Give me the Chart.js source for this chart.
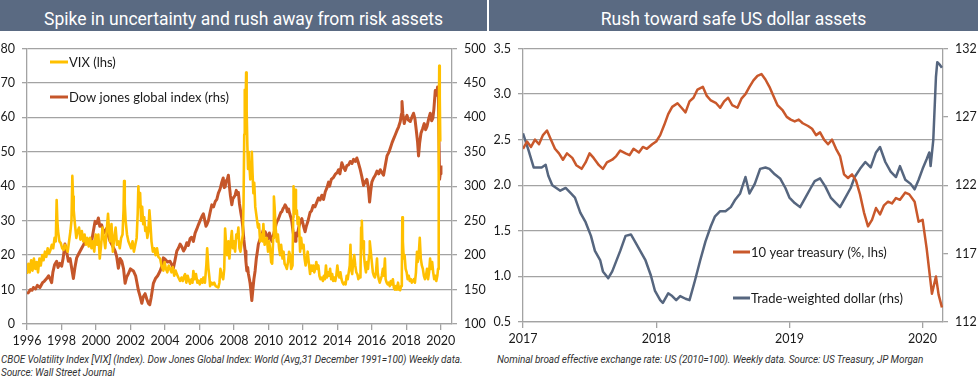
<!DOCTYPE html>
<html><head><meta charset="utf-8">
<script src="https://cdn.jsdelivr.net/npm/chart.js@4.4.1/dist/chart.umd.min.js"></script>
<style>
html,body{margin:0;padding:0;background:#fff;}
body{width:978px;height:382px;position:relative;overflow:hidden;font-family:Roboto,'Noto Sans',sans-serif;}
.hdr{position:absolute;top:0;height:31px;background:#5a6a82;color:#fff;font-size:17.5px;line-height:38px;text-align:center;overflow:hidden;white-space:nowrap;}
.note{position:absolute;font-style:italic;font-size:10px;line-height:13px;color:#333;white-space:nowrap;letter-spacing:-0.1px;}
canvas{position:absolute;}
</style></head><body>
<div class="hdr" style="left:0;width:487px">Spike in uncertainty and rush away from risk assets</div>
<div class="hdr" style="left:489px;width:489px">Rush toward safe US dollar assets</div>
<canvas id="c1" width="487" height="316" style="left:0;top:34px"></canvas>
<canvas id="c2" width="489" height="316" style="left:489px;top:34px"></canvas>
<div class="note" style="left:1px;top:353px">CBOE Volatility Index [VIX] (Index). Dow Jones Global Index: World (Avg,31 December 1991=100) Weekly data.<br>Source: Wall Street Journal</div>
<div class="note" style="left:497px;top:353px">Nominal broad effective exchange rate: US (2010=100). Weekly data. Source: US Treasury, JP Morgan</div>
<script>
// ---------- LEFT CHART DATA ----------
const vixYears = [1996.00,1996.08,1996.16,1996.24,1996.32,1996.40,1996.48,1996.56,1996.64,1996.72,1996.80,1996.88,1996.96,1997.04,1997.12,1997.20,1997.28,1997.36,1997.44,1997.52,1997.60,1997.67,1997.72,1997.76,1997.80,1997.88,1997.96,1998.04,1998.12,1998.20,1998.28,1998.36,1998.44,1998.52,1998.58,1998.63,1998.67,1998.71,1998.78,1998.86,1998.94,1999.02,1999.10,1999.18,1999.26,1999.34,1999.42,1999.50,1999.58,1999.66,1999.74,1999.82,1999.90,1999.98,2000.06,2000.14,2000.22,2000.30,2000.38,2000.46,2000.54,2000.62,2000.70,2000.76,2000.82,2000.90,2000.98,2001.06,2001.14,2001.22,2001.30,2001.38,2001.46,2001.54,2001.60,2001.63,2001.67,2001.72,2001.80,2001.88,2001.96,2002.04,2002.12,2002.20,2002.28,2002.36,2002.42,2002.46,2002.50,2002.56,2002.62,2002.68,2002.74,2002.80,2002.86,2002.92,2002.98,2003.04,2003.10,2003.16,2003.22,2003.30,2003.38,2003.46,2003.54,2003.62,2003.72,2003.80,2003.91,2003.98,2004.06,2004.14,2004.22,2004.30,2004.38,2004.46,2004.54,2004.62,2004.69,2004.78,2004.88,2004.96,2005.04,2005.12,2005.17,2005.24,2005.32,2005.40,2005.46,2005.54,2005.60,2005.65,2005.72,2005.80,2005.88,2005.94,2006.02,2006.10,2006.18,2006.23,2006.32,2006.40,2006.45,2006.52,2006.58,2006.62,2006.70,2006.78,2006.86,2006.94,2007.02,2007.10,2007.16,2007.22,2007.30,2007.38,2007.44,2007.49,2007.55,2007.61,2007.68,2007.74,2007.80,2007.88,2007.94,2008.00,2008.07,2008.14,2008.20,2008.26,2008.32,2008.38,2008.46,2008.52,2008.56,2008.60,2008.63,2008.66,2008.71,2008.74,2008.78,2008.82,2008.86,2008.90,2008.95,2009.00,2009.04,2009.08,2009.13,2009.18,2009.24,2009.33,2009.40,2009.46,2009.52,2009.60,2009.66,2009.71,2009.78,2009.85,2009.91,2009.98,2010.04,2010.10,2010.16,2010.22,2010.28,2010.32,2010.36,2010.42,2010.49,2010.55,2010.62,2010.68,2010.74,2010.82,2010.88,2010.94,2011.00,2011.07,2011.14,2011.20,2011.26,2011.32,2011.40,2011.44,2011.46,2011.50,2011.55,2011.60,2011.65,2011.70,2011.76,2011.84,2011.90,2011.96,2012.04,2012.10,2012.16,2012.23,2012.28,2012.34,2012.42,2012.48,2012.54,2012.60,2012.66,2012.72,2012.78,2012.84,2012.90,2012.96,2013.02,2013.10,2013.16,2013.22,2013.28,2013.34,2013.40,2013.46,2013.52,2013.58,2013.64,2013.70,2013.76,2013.82,2013.88,2013.94,2014.00,2014.06,2014.12,2014.18,2014.24,2014.30,2014.36,2014.42,2014.48,2014.54,2014.60,2014.66,2014.72,2014.76,2014.80,2014.86,2014.92,2014.98,2015.04,2015.10,2015.16,2015.22,2015.28,2015.34,2015.38,2015.42,2015.46,2015.50,2015.54,2015.60,2015.66,2015.72,2015.78,2015.84,2015.88,2015.94,2016.00,2016.06,2016.12,2016.18,2016.24,2016.30,2016.34,2016.40,2016.46,2016.52,2016.58,2016.64,2016.70,2016.76,2016.80,2016.86,2016.92,2016.98,2017.04,2017.10,2017.16,2017.22,2017.28,2017.34,2017.40,2017.46,2017.52,2017.58,2017.64,2017.70,2017.74,2017.77,2017.80,2017.85,2017.90,2017.96,2018.02,2018.08,2018.14,2018.20,2018.26,2018.32,2018.38,2018.44,2018.50,2018.56,2018.62,2018.66,2018.72,2018.78,2018.84,2018.90,2018.96,2019.02,2019.08,2019.14,2019.20,2019.26,2019.32,2019.38,2019.44,2019.50,2019.56,2019.62,2019.68,2019.74,2019.80,2019.84,2019.87,2019.89,2019.91,2019.94,2019.97];
const vixValues = [14.5,17.5,15,18.5,15.5,19,16,18,15,19,17,20,18.5,21,19.5,22,20.5,21.5,23,22,25,24,36,30,27,24,23.5,22,21.5,23,22,21,24,27,30,43,37,33,29,25,27,28,24.5,27,24,26,23,25,22.5,25,22,24,21,26,23,26,19,23,28,25,22,27,32,27,24,29,21,25,28,23,24,22,25,26,33,41.5,35,30,26,24,23,22,24,21,23,25,32,40,34,38,30,34,29,31,27,28,25,27,33,29,24,21,22,20,22,19.5,19,17,15.5,18,16,15,17,16,15,16.5,14,15.5,14.5,13.5,12.5,13.5,12.5,14,14.5,12,14,12.5,11.7,13,12,15.4,13,14.5,12,12.6,11.5,13,12,13.5,12,17,22,16.3,13.5,11,12,11.5,12,11,10.8,10.6,12,16,14,13,16,27.7,23,20,24,19,23,27,22,24,21,26,25,28,22,21,24,26,35,55,68,58,73,62,52,45,50,46,42,45,50,44,38,41,34,30.6,28,29,24,26,24,29,23,24,25,21,24,22,18,17.5,25,37,34,28,24,26,22,20,23,19,21,17.5,17,16,18,21,20,16,17,31,40,34,39,32,33,29,31,21,25,22,23,19,17,19,21,18,14.5,17,15.5,17,15,16,18,16,17,14,13,13.5,12.5,14,13,17,13.5,15,14,16,13,14.5,12.5,13.5,12.5,14,17,14.5,13.5,15,13,12,11.5,12,11.5,14,13,15,17,23,16,14.5,18,20,17,15,14.5,13,14,13.5,28,30,22,24,20,17,15,18,16,20,24,21,18,15,14,13.5,15,19,15,13,12,13,14,16,14,19,13,12,11.5,12,11,12.5,11.5,13,10.5,10,11,10,12,10,9.8,11,14,31,24,19,20,16,15,13,14,12.5,13,12,12.5,13,12,15,21,18,20,25,19,17,16,14,13,14,16,13,15,19,16,18,15,13,14,12.5,14,16,26,57,75,66,53];

const djYears = [1996.00,1996.10,1996.20,1996.30,1996.37,1996.50,1996.60,1996.75,1996.90,1997.00,1997.14,1997.25,1997.35,1997.43,1997.50,1997.60,1997.72,1997.80,1997.90,1998.01,1998.10,1998.20,1998.30,1998.40,1998.50,1998.60,1998.69,1998.78,1998.88,1999.00,1999.17,1999.30,1999.46,1999.60,1999.75,1999.85,1999.95,2000.05,2000.14,2000.22,2000.33,2000.45,2000.62,2000.72,2000.82,2000.95,2001.11,2001.20,2001.30,2001.40,2001.50,2001.60,2001.69,2001.78,2001.88,2002.00,2002.17,2002.30,2002.46,2002.56,2002.66,2002.75,2002.85,2002.95,2003.04,2003.12,2003.20,2003.33,2003.45,2003.58,2003.72,2003.85,2003.91,2004.01,2004.15,2004.30,2004.40,2004.49,2004.58,2004.69,2004.78,2004.88,2004.98,2005.08,2005.17,2005.27,2005.36,2005.46,2005.55,2005.65,2005.75,2005.85,2005.94,2006.04,2006.14,2006.23,2006.30,2006.38,2006.43,2006.52,2006.62,2006.72,2006.82,2006.92,2007.01,2007.10,2007.20,2007.30,2007.38,2007.44,2007.49,2007.56,2007.62,2007.68,2007.74,2007.80,2007.88,2007.94,2008.00,2008.07,2008.14,2008.20,2008.26,2008.32,2008.40,2008.46,2008.52,2008.58,2008.65,2008.70,2008.75,2008.80,2008.84,2008.90,2008.94,2008.98,2009.04,2009.10,2009.16,2009.23,2009.30,2009.36,2009.42,2009.50,2009.56,2009.62,2009.70,2009.76,2009.81,2009.88,2009.94,2010.00,2010.06,2010.12,2010.20,2010.26,2010.32,2010.39,2010.46,2010.52,2010.59,2010.66,2010.72,2010.78,2010.86,2010.92,2010.97,2011.04,2011.10,2011.17,2011.24,2011.30,2011.36,2011.42,2011.48,2011.55,2011.60,2011.68,2011.75,2011.82,2011.88,2011.94,2012.00,2012.06,2012.13,2012.20,2012.28,2012.35,2012.42,2012.50,2012.60,2012.70,2012.81,2012.90,2013.00,2013.10,2013.20,2013.30,2013.40,2013.49,2013.55,2013.65,2013.78,2013.90,2014.00,2014.07,2014.15,2014.26,2014.35,2014.46,2014.55,2014.65,2014.75,2014.85,2014.94,2015.05,2015.13,2015.22,2015.33,2015.42,2015.52,2015.60,2015.71,2015.80,2015.87,2015.93,2016.00,2016.10,2016.20,2016.30,2016.40,2016.49,2016.58,2016.68,2016.78,2016.88,2017.00,2017.08,2017.17,2017.25,2017.35,2017.46,2017.55,2017.65,2017.72,2017.75,2017.80,2017.88,2017.95,2018.04,2018.12,2018.23,2018.32,2018.42,2018.50,2018.58,2018.65,2018.71,2018.77,2018.85,2018.95,2019.04,2019.12,2019.20,2019.30,2019.39,2019.47,2019.54,2019.60,2019.68,2019.75,2019.81,2019.86,2019.89,2019.93,2019.97,2020.01];
const djValues = [144,146,150,149,153,151,156,153,160,162,166,170,165,160,175,186,191,182,188,184,196,216,205,191,195,180,166,182,196,202,210,216,223,218,220,235,249,246,254,242,244,232,239,228,220,214,206,198,181,195,191,180,159,168,173,180,177,170,149,140,130,140,144,136,130,128,138,159,166,170,177,186,196,194,190,191,186,181,192,206,210,216,212,206,210,218,214,224,226,220,232,238,244,250,256,260,252,242,244,250,262,273,270,278,281,290,296,306,312,298,299,308,310,316,300,286,273,282,284,287,294,288,291,275,262,253,240,222,206,190,177,182,173,165,159,150,134,150,165,177,195,205,216,222,226,230,236,228,234,230,226,224,232,226,220,226,232,239,246,250,253,258,262,263,268,270,273,270,263,267,260,255,249,236,226,220,232,228,239,246,250,253,246,240,234,242,248,255,262,264,272,270,277,283,280,287,281,292,298,306,300,310,313,318,320,324,318,334,328,323,330,331,336,333,339,336,341,334,324,314,301,306,310,298,277,292,306,312,316,322,318,324,320,316,330,344,350,356,363,368,374,381,386,394,405,423,405,391,398,403,396,394,400,406,398,381,365,344,362,377,384,391,382,387,398,406,395,399,412,439,432,444,430,377,310,318,330];

const leftYearTicks = [1996,1998,2000,2002,2004,2006,2008,2010,2012,2014,2016,2018,2020];
const vixTicks = [0,10,20,30,40,50,60,70,80];
const djTicks = [100,150,200,250,300,350,400,450,500];

// ---------- RIGHT CHART DATA ----------
const tsyYears = [2017.00,2017.03,2017.06,2017.09,2017.12,2017.15,2017.18,2017.21,2017.24,2017.27,2017.30,2017.33,2017.37,2017.40,2017.44,2017.47,2017.50,2017.53,2017.57,2017.60,2017.63,2017.67,2017.70,2017.73,2017.77,2017.80,2017.83,2017.87,2017.90,2017.93,2017.97,2018.00,2018.03,2018.06,2018.09,2018.12,2018.16,2018.19,2018.22,2018.25,2018.28,2018.31,2018.35,2018.38,2018.41,2018.45,2018.48,2018.51,2018.54,2018.57,2018.61,2018.64,2018.67,2018.70,2018.73,2018.76,2018.79,2018.82,2018.85,2018.88,2018.91,2018.95,2018.98,2019.01,2019.04,2019.07,2019.10,2019.14,2019.17,2019.20,2019.23,2019.26,2019.29,2019.32,2019.35,2019.38,2019.41,2019.44,2019.47,2019.50,2019.53,2019.56,2019.59,2019.62,2019.65,2019.68,2019.71,2019.74,2019.77,2019.80,2019.83,2019.87,2019.90,2019.94,2019.97,2020.00,2020.03,2020.07,2020.10,2020.12,2020.145];
const tsyValues = [2.40,2.48,2.42,2.50,2.45,2.55,2.60,2.50,2.40,2.35,2.28,2.35,2.30,2.22,2.18,2.25,2.35,2.30,2.22,2.18,2.25,2.28,2.32,2.38,2.35,2.33,2.40,2.36,2.42,2.40,2.45,2.48,2.55,2.66,2.78,2.86,2.90,2.85,2.80,2.92,2.96,3.05,3.08,2.98,2.93,2.90,2.85,2.92,2.96,2.88,2.85,2.95,3.00,3.08,3.15,3.20,3.22,3.16,3.08,2.98,2.88,2.82,2.75,2.72,2.70,2.72,2.68,2.65,2.62,2.55,2.58,2.50,2.45,2.50,2.40,2.32,2.12,2.08,2.12,2.05,1.90,1.70,1.55,1.62,1.75,1.68,1.78,1.82,1.80,1.86,1.84,1.92,1.90,1.82,1.60,1.62,1.31,0.81,1.00,0.80,0.66];

const usdYears = [2017.00,2017.04,2017.08,2017.14,2017.17,2017.19,2017.22,2017.28,2017.32,2017.36,2017.39,2017.43,2017.47,2017.51,2017.54,2017.58,2017.60,2017.64,2017.67,2017.73,2017.77,2017.81,2017.84,2017.88,2017.92,2017.96,2017.99,2018.03,2018.05,2018.09,2018.12,2018.15,2018.18,2018.22,2018.25,2018.29,2018.33,2018.37,2018.41,2018.44,2018.48,2018.52,2018.56,2018.59,2018.63,2018.67,2018.70,2018.74,2018.78,2018.82,2018.85,2018.89,2018.93,2018.97,2019.00,2019.04,2019.08,2019.12,2019.16,2019.19,2019.23,2019.27,2019.31,2019.35,2019.38,2019.42,2019.46,2019.49,2019.53,2019.57,2019.61,2019.65,2019.68,2019.72,2019.76,2019.80,2019.83,2019.87,2019.91,2019.94,2019.97,2020.00,2020.03,2020.05,2020.06,2020.08,2020.10,2020.11,2020.13,2020.145];
const usdValues = [125.8,124.6,123.3,123.3,123.5,122.7,122.0,121.6,121.8,121.4,121.1,120.0,119.3,118.3,117.2,116.5,115.7,115.2,115.7,117.2,118.3,118.4,117.9,117.2,116.5,115.4,114.3,113.6,113.4,114.1,113.9,113.6,113.9,113.7,113.6,115.0,116.5,117.9,119.0,119.7,120.1,120.1,120.4,120.9,121.4,122.6,121.4,122.1,123.2,123.3,123.2,122.8,122.5,121.8,121.1,120.7,120.4,121.1,121.8,122.3,122.5,121.9,121.1,120.7,120.4,121.1,121.8,122.6,123.2,123.7,123.3,124.4,124.8,123.7,123.0,122.6,123.4,122.4,122.1,121.7,122.4,123.2,123.9,124.4,123.4,125.3,129.9,131.0,130.8,130.6];

const rightYearTicks = [2017,2018,2019,2020];
const tsyTicks = [0.5,1.0,1.5,2.0,2.5,3.0,3.5];
const usdTicks = [112,117,122,127,132];

// ---------- helpers ----------
const pts = (xs, ys) => xs.map((x, i) => ({x: x, y: ys[i]}));
const GRID = '#a3a3a3';
const TICKFONT = {family: 'Lato, "Open Sans", sans-serif', size: 12.5};
const TICKCOLOR = '#1a1a1a';
const setTicks = (arr) => (scale) => { scale.ticks = arr.map(v => ({value: v})); };
const fixW = (w) => (scale) => { scale.width = w; };
const fixH = (h) => (scale) => { scale.height = h; };

const inLegend = {
  id: 'inLegend',
  afterDatasetsDraw(chart, args, opts) {
    const ctx = chart.ctx;
    ctx.save();
    chart.data.datasets.forEach((ds, i) => {
      const p = opts.items[i];
      ctx.strokeStyle = ds.borderColor;
      ctx.lineWidth = 3;
      ctx.beginPath();
      ctx.moveTo(p.x, p.y);
      ctx.lineTo(p.x + opts.lineLen, p.y);
      ctx.stroke();
      ctx.fillStyle = '#1a1a1a';
      ctx.font = opts.font;
      ctx.textBaseline = 'middle';
      ctx.textAlign = 'left';
      ctx.fillText(ds.label, p.x + opts.lineLen + 1, p.y + 0.5);
    });
    ctx.restore();
  }
};

function yAxis(pos, ticks, w, showGrid, fmt) {
  return {
    type: 'linear', position: pos,
    min: ticks[0], max: ticks[ticks.length - 1],
    afterBuildTicks: setTicks(ticks),
    afterFit: fixW(w),
    grid: {display: true, drawOnChartArea: showGrid, color: GRID, lineWidth: 1.3, tickLength: 5, drawTicks: true},
    border: {display: true, color: GRID, width: 1.3},
    ticks: {font: TICKFONT, color: TICKCOLOR, padding: 7, callback: fmt}
  };
}
function xAxis(ticks, min, max, h) {
  return {
    type: 'linear', position: 'bottom', min: min, max: max,
    afterBuildTicks: setTicks(ticks),
    afterFit: fixH(h),
    grid: {display: true, drawOnChartArea: false, color: GRID, lineWidth: 1.3, tickLength: 6},
    border: {display: true, color: GRID, width: 1.3},
    ticks: {font: TICKFONT, color: TICKCOLOR, padding: 3, maxRotation: 0, autoSkip: false, callback: v => String(v)}
  };
}

new Chart(document.getElementById('c1'), {
  type: 'line',
  data: {datasets: [
    {label: 'VIX (lhs)', data: pts(vixYears, vixValues), yAxisID: 'y', borderColor: '#FFC000', borderWidth: 2.6},
    {label: 'Dow jones global index (rhs)', data: pts(djYears, djValues), yAxisID: 'y1', borderColor: '#C5562A', borderWidth: 3}
  ]},
  options: {
    responsive: false, animation: false, devicePixelRatio: 1,
    layout: {padding: {top: 10, left: 0, right: 0, bottom: 0}},
    elements: {point: {radius: 0}, line: {tension: 0, borderJoinStyle: 'round'}},
    plugins: {legend: {display: false}, tooltip: {enabled: false},
      inLegend: {items: [{x: 50, y: 28}, {x: 50, y: 63}], lineLen: 18, font: '13px Lato, "Open Sans", sans-serif'}},
    scales: {
      x: xAxis(leftYearTicks, 1996, 2020.65, 26),
      y: yAxis('left', vixTicks, 27, true, v => String(v)),
      y1: yAxis('right', djTicks, 35, false, v => String(v))
    }
  },
  plugins: [inLegend]
});

new Chart(document.getElementById('c2'), {
  type: 'line',
  data: {datasets: [
    {label: '10 year treasury (%, lhs)', data: pts(tsyYears, tsyValues), yAxisID: 'y', borderColor: '#C9582B', borderWidth: 2.5},
    {label: 'Trade-weighted dollar (rhs)', data: pts(usdYears, usdValues), yAxisID: 'y1', borderColor: '#56667F', borderWidth: 2.5}
  ]},
  options: {
    responsive: false, animation: false, devicePixelRatio: 1,
    layout: {padding: {top: 10, left: 0, right: 0, bottom: 0}},
    elements: {point: {radius: 0}, line: {tension: 0, borderJoinStyle: 'round'}},
    plugins: {legend: {display: false}, tooltip: {enabled: false},
      inLegend: {items: [{x: 244, y: 218}, {x: 244, y: 264}], lineLen: 17, font: '13px Lato, "Open Sans", sans-serif'}},
    scales: {
      x: xAxis(rightYearTicks, 2017, 2020.153, 28),
      y: yAxis('left', tsyTicks, 34, true, v => v.toFixed(1)),
      y1: yAxis('right', usdTicks, 35, false, v => String(v))
    }
  },
  plugins: [inLegend]
});
</script>
</body></html>
